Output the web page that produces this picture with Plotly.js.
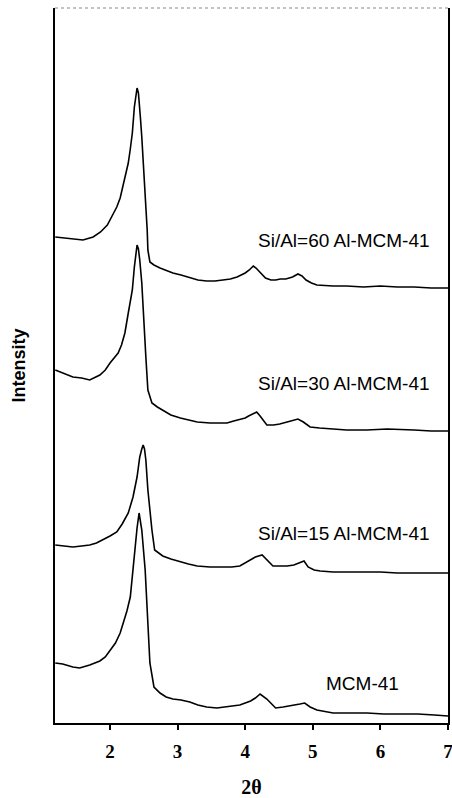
<!DOCTYPE html>
<html>
<head>
<meta charset="utf-8">
<script src="https://cdn.plot.ly/plotly-3.0.1.min.js"></script>
<style>
html,body{margin:0;padding:0;background:#fff;}
#chart{width:452px;height:798px;}
</style>
</head>
<body>
<div id="chart"></div>
<script>
// 2-theta values and stacked (offset) intensities, arbitrary units
const x_si60 = [1.19,1.30,1.45,1.60,1.75,1.86,1.96,2.04,2.10,2.15,2.19,2.23,2.27,2.30,2.33,2.36,2.38,2.40,2.42,2.43,2.45,2.47,2.50,2.53,2.55,2.56,2.59,2.65,2.74,2.84,2.93,3.05,3.18,3.30,3.43,3.55,3.67,3.78,3.88,3.95,4.00,4.06,4.12,4.16,4.20,4.25,4.30,4.38,4.45,4.52,4.60,4.70,4.78,4.84,4.90,4.98,5.06,5.30,5.50,5.75,6.00,6.25,6.50,6.75,7.00];
const y_si60 = [486,485,484,483,486,491,498,508,516,525,536,547,560,574,590,616,628,635,630,623,605,586,556,516,493,473,461,458,455,452,450,448,445,443,442,442,443,444,446,448,450,453,457,455,452,448,445,443,443,444,444,446,449,447,443,440,438,437,437,436,437,436,436,435,435];

const x_si30 = [1.19,1.30,1.45,1.58,1.70,1.85,1.93,2.00,2.06,2.12,2.17,2.22,2.27,2.30,2.33,2.36,2.38,2.40,2.42,2.44,2.47,2.49,2.53,2.56,2.62,2.70,2.78,2.90,3.04,3.16,3.29,3.48,3.60,3.73,3.83,3.92,4.00,4.05,4.11,4.17,4.22,4.27,4.32,4.42,4.51,4.62,4.72,4.78,4.86,4.96,5.10,5.25,5.50,5.80,6.10,6.50,6.75,7.00];
const y_si30 = [353,350,346,345,343,348,353,360,365,370,378,390,410,420,433,456,469,478,474,463,440,410,366,333,320,316,313,308,305,303,301,300,300,300,302,304,305,307,309,311,307,302,298,298,299,301,303,304,301,296,295,294,293,293,294,293,292,292];

const x_si15 = [1.19,1.30,1.45,1.58,1.70,1.80,1.89,2.00,2.10,2.18,2.27,2.34,2.40,2.44,2.47,2.49,2.51,2.53,2.56,2.59,2.62,2.66,2.72,2.78,2.90,3.04,3.16,3.29,3.48,3.67,3.80,3.92,4.00,4.07,4.15,4.25,4.32,4.41,4.52,4.62,4.72,4.81,4.87,4.93,5.02,5.11,5.30,5.50,5.75,6.00,6.25,6.50,6.75,7.00];
const y_si15 = [178,177,176,177,178,180,183,187,191,199,210,226,246,266,274,278,274,263,233,210,193,173,170,167,164,161,159,157,156,156,156,157,160,163,166,168,163,157,157,157,158,160,162,156,153,152,151,151,151,151,150,150,150,150];

const x_mcm = [1.19,1.30,1.45,1.55,1.70,1.85,1.93,2.00,2.08,2.15,2.20,2.25,2.30,2.34,2.37,2.40,2.43,2.47,2.52,2.55,2.59,2.65,2.74,2.83,2.93,3.05,3.18,3.30,3.43,3.58,3.73,3.83,3.92,4.00,4.08,4.15,4.22,4.32,4.45,4.56,4.66,4.75,4.81,4.88,4.96,5.06,5.30,5.55,5.80,6.05,6.30,6.55,6.80,7.00];
const y_mcm = [60,59,56,55,58,62,66,73,80,90,100,112,126,153,180,195,210,193,153,106,60,36,30,26,24,23,21,18,16,15,16,17,18,20,22,25,29,24,15,16,17,18,19,20,16,13,10,10,10,9,9,9,8,7,8];

const seriesNames = ["Si/Al=60 Al-MCM-41","Si/Al=30 Al-MCM-41","Si/Al=15 Al-MCM-41","MCM-41"];
const labelX = [6.76, 6.76, 6.76, 6.30];
const labelY = [483, 340, 190, 40];
const xTicks = [2,3,4,5,6,7];

const xs = [x_si60, x_si30, x_si15, x_mcm];
const ys = [y_si60, y_si30, y_si15, y_mcm];

const traces = xs.map((xv, i) => ({
  x: xv, y: ys[i], type: 'scatter', mode: 'lines', name: seriesNames[i],
  line: {color: '#000', width: 1.6, shape: 'linear'},
  hoverinfo: 'skip'
}));

const annotations = seriesNames.map((t, i) => ({
  x: labelX[i], y: labelY[i], xref: 'x', yref: 'y', text: t, showarrow: false,
  xanchor: 'right', yanchor: 'middle',
  font: {family: 'Liberation Sans, Arial, sans-serif', size: 19, color: '#000'}
}));

const layout = {
  width: 452, height: 798,
  margin: {l: 55, r: 4, t: 8, b: 75},
  paper_bgcolor: '#fff', plot_bgcolor: '#fff',
  showlegend: false,
  xaxis: {
    range: [1.186, 7], tickvals: xTicks, ticktext: xTicks.map(String),
    showgrid: false, zeroline: false,
    showline: true, linecolor: '#000', linewidth: 2,
    ticks: 'outside', ticklen: 5, tickwidth: 2, tickcolor: '#000',
    ticklabelstandoff: 5, ticklabeloverflow: 'allow',
    tickfont: {family: 'Liberation Serif, Times New Roman, serif', size: 19, weight: 'bold', color: '#000'},
    title: {text: '2θ', standoff: 20, font: {family: 'Liberation Serif, Times New Roman, serif', size: 20, weight: 'bold', color: '#000'}}
  },
  yaxis: {
    range: [0, 715], showticklabels: false, ticks: '',
    showgrid: false, zeroline: false,
    showline: true, mirror: true, linecolor: '#000', linewidth: 2,
    title: {text: 'Intensity', standoff: 23, font: {family: 'Liberation Sans, Arial, sans-serif', size: 18, weight: 'bold', color: '#000'}}
  },
  shapes: [{
    type: 'line', xref: 'paper', yref: 'paper', x0: 0, x1: 1, y0: 1, y1: 1,
    line: {color: '#b0b0b0', width: 1.5, dash: 'dot'}
  }],
  annotations: annotations
};

Plotly.newPlot('chart', traces, layout, {displayModeBar: false, staticPlot: true});
</script>
</body>
</html>
